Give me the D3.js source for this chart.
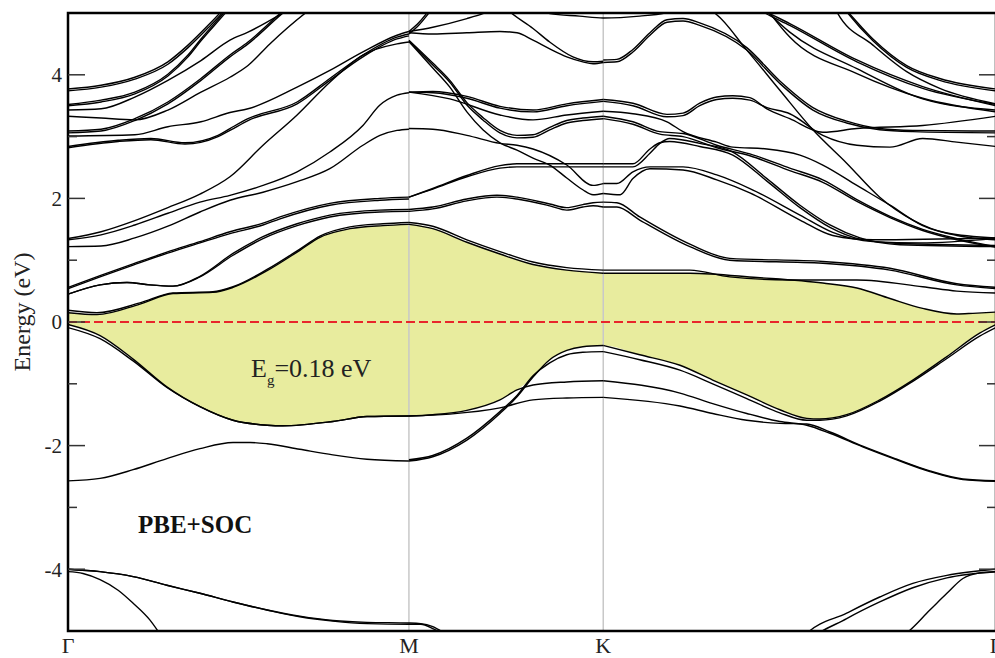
<!DOCTYPE html>
<html>
<head>
<meta charset="utf-8">
<script src="https://cdn.jsdelivr.net/npm/d3@7"></script>
<style>
    body { margin: 0; background: #fff; }
    svg { display: block; }
    text { font-family: "Liberation Serif", "Times New Roman", "DejaVu Serif", serif; }
</style>
</head>
<body>
<svg id="chart" width="995" height="658"></svg>
<script>
// k-path: Gamma - M - K - Gamma (path length units), energies in eV
var kPoints = [0, 1.0, 1.57, 2.722];
var kLabels = ["Γ", "M", "K", "Γ"];
var yMajor = [-4, -2, 0, 2, 4];
var yMinor = [-3, -1, 1, 3];

// each band: [k, E] or [k, E, E2] (E2 = spin-orbit partner line)
var bandsGM = [
    [[0,3.77,3.74],[0.097,3.83,3.80],[0.196,3.96,3.93],[0.293,4.21,4.17],[0.352,4.48,4.44],[0.411,4.80,4.76],[0.449,5.02,4.98],[0.47,5.15,5.12]],
    [[0,3.52,3.50],[0.097,3.59,3.56],[0.196,3.72,3.69],[0.293,4.01,3.98],[0.352,4.32,4.29],[0.39,4.58,4.55],[0.46,5.02,4.99],[0.48,5.15,5.12]],
    [[0,3.43],[0.097,3.45],[0.196,3.64],[0.293,3.91],[0.39,4.23],[0.475,4.56],[0.528,4.69],[0.636,5.02],[0.66,5.10]],
    [[0,3.09,3.06],[0.097,3.12,3.09],[0.196,3.29,3.26],[0.293,3.56,3.53],[0.39,3.94,3.91],[0.475,4.32,4.29],[0.528,4.53,4.50],[0.628,5.02,4.99],[0.65,5.12,5.09]],
    [[0,3.33],[0.097,3.30],[0.196,3.27],[0.293,3.43],[0.39,3.72],[0.475,3.96],[0.528,4.15],[0.592,4.50],[0.701,5.02],[0.72,5.10]],
    [[0,3.01],[0.196,3.03],[0.293,3.16],[0.39,3.24],[0.475,3.39],[0.528,3.45],[0.672,3.80],[0.768,4.07],[0.865,4.37],[0.965,4.64],[1.0,4.70]],
    [[0,2.84,2.82],[0.147,2.94,2.92],[0.243,2.97,2.95],[0.343,2.90,2.88],[0.44,3.02,3.00],[0.475,3.13,3.10],[0.528,3.29,3.26],[0.672,3.56,3.53],[0.768,3.94,3.91],[0.865,4.32,4.29],[0.965,4.61,4.58],[1.0,4.66,4.63]],
    [[0,1.35],[0.097,1.46],[0.196,1.64],[0.293,1.85],[0.387,2.07],[0.475,2.35],[0.572,2.86],[0.672,3.35],[0.768,3.88],[0.865,4.32],[0.965,4.50],[1.0,4.53]],
    [[0,1.33],[0.097,1.41],[0.196,1.57],[0.293,1.76],[0.387,1.94],[0.475,2.05],[0.572,2.21],[0.672,2.43],[0.768,2.75],[0.865,3.18],[0.915,3.51],[0.965,3.67],[1.0,3.71]],
    [[0,1.22],[0.097,1.23],[0.196,1.36],[0.293,1.55],[0.387,1.78],[0.475,1.97],[0.572,2.10],[0.672,2.27],[0.768,2.48],[0.865,2.86],[0.915,3.02],[0.965,3.10],[1.0,3.12]],
    [[0,0.54,0.56],[0.094,0.73,0.75],[0.191,0.92,0.94],[0.29,1.11,1.13],[0.387,1.28,1.30],[0.475,1.43,1.46],[0.572,1.57,1.60],[0.622,1.67,1.70],[0.768,1.89,1.92],[0.915,1.97,2.00],[1.0,1.99,2.02]],
    [[0,0.45,0.45],[0.094,0.60,0.60],[0.173,0.64,0.64],[0.24,0.60,0.60],[0.308,0.58,0.58],[0.387,0.73,0.74],[0.484,1.08,1.11],[0.572,1.35,1.38],[0.672,1.56,1.59],[0.768,1.70,1.73],[0.915,1.78,1.81],[1.0,1.79,1.82]],
    [[0,0.15,0.19],[0.085,0.12,0.15],[0.211,0.29,0.31],[0.308,0.46,0.47],[0.425,0.48,0.49],[0.484,0.56,0.57],[0.584,0.83,0.85],[0.68,1.16,1.18],[0.739,1.37,1.39],[0.827,1.51,1.54],[0.924,1.56,1.59],[1.0,1.58,1.61]],
    [[0,-0.04,-0.09],[0.094,-0.22,-0.27],[0.191,-0.60,-0.63],[0.29,-1.05,-1.06],[0.387,-1.37,-1.37],[0.484,-1.59,-1.59],[0.584,-1.67,-1.67],[0.63,-1.68,-1.68],[0.777,-1.61,-1.61],[0.877,-1.53,-1.53],[1.0,-1.52,-1.52]],
    [[0,-2.57],[0.094,-2.53],[0.191,-2.39],[0.29,-2.21],[0.387,-2.05],[0.484,-1.95],[0.534,-1.95],[0.584,-1.97],[0.68,-2.06],[0.777,-2.15],[0.877,-2.22],[1.0,-2.25]],
    [[0,-4.00,-4.00],[0.094,-4.04,-4.04],[0.191,-4.12,-4.12],[0.29,-4.26,-4.26],[0.387,-4.39,-4.39],[0.484,-4.53,-4.53],[0.584,-4.66,-4.66],[0.68,-4.77,-4.76],[0.777,-4.84,-4.83],[0.877,-4.88,-4.86],[1.0,-4.89,-4.87],[1.035,-4.89,-4.88],[1.07,-4.96,-4.93],[1.1,-5.05,-5.02]],
    [[0,-4.04],[0.044,-4.07],[0.094,-4.17],[0.147,-4.34],[0.191,-4.55],[0.24,-4.82],[0.27,-5.05]]
];

var bandsMK = [
    [[1.0,4.70,4.66],[1.03,4.85,4.81],[1.06,5.05,5.01],[1.07,5.12,5.08]],
    [[1.0,4.70],[1.07,4.77],[1.17,4.91],[1.217,4.99],[1.25,5.06]],
    [[1.0,4.68],[1.07,4.66],[1.17,4.68],[1.267,4.70],[1.317,4.68],[1.364,4.56],[1.413,4.42],[1.463,4.29],[1.51,4.21],[1.54,4.18],[1.57,4.20]],
    [[1.28,5.1],[1.296,5.02],[1.364,4.75],[1.413,4.53],[1.481,4.29],[1.54,4.21],[1.57,4.22]],
    [[1.39,5.06],[1.413,4.99],[1.5,4.95],[1.57,4.92],[1.677,4.95],[1.751,5.0],[1.79,5.06]],
    [[1.0,3.72,3.72],[1.07,3.71,3.73],[1.17,3.62,3.65],[1.267,3.46,3.49],[1.364,3.40,3.43],[1.463,3.50,3.53],[1.57,3.57,3.60]],
    [[1.0,3.72],[1.12,3.61],[1.267,3.35],[1.364,3.27],[1.463,3.35],[1.57,3.41]],
    [[1.0,4.54,4.56],[1.07,4.16,4.19],[1.12,3.88,3.91],[1.17,3.51,3.55],[1.217,3.27,3.31],[1.267,3.06,3.10],[1.317,2.98,3.02],[1.364,2.99,3.03],[1.413,3.11,3.15],[1.463,3.22,3.26],[1.51,3.26,3.30],[1.57,3.29,3.33]],
    [[1.0,4.54],[1.07,4.11],[1.12,3.80],[1.17,3.40],[1.217,3.11],[1.267,2.90],[1.317,2.78],[1.364,2.65],[1.413,2.54],[1.463,2.33],[1.51,2.14],[1.54,2.06],[1.57,2.08]],
    [[1.0,3.13],[1.07,3.12],[1.17,3.02],[1.267,2.89],[1.317,2.86],[1.364,2.80],[1.463,2.54],[1.54,2.21],[1.57,2.24]],
    [[1.0,2.02,2.02],[1.07,2.15,2.16],[1.17,2.35,2.37],[1.267,2.49,2.53],[1.317,2.51,2.56],[1.413,2.51,2.56],[1.57,2.51,2.56]],
    [[1.0,1.79,1.82],[1.07,1.83,1.86],[1.17,1.96,1.99],[1.258,2.02,2.05],[1.317,1.99,2.02],[1.413,1.88,1.91],[1.463,1.81,1.85],[1.51,1.86,1.90],[1.54,1.88,1.93],[1.57,1.86,1.94]],
    [[1.0,1.58,1.61],[1.07,1.51,1.55],[1.17,1.29,1.33],[1.267,1.10,1.14],[1.364,0.93,0.97],[1.463,0.84,0.88],[1.57,0.79,0.84]],
    [[1.0,-2.25,-2.23],[1.07,-2.18,-2.16],[1.17,-1.91,-1.88],[1.267,-1.48,-1.45],[1.317,-1.21,-1.19],[1.364,-0.89,-0.87],[1.413,-0.61,-0.66],[1.463,-0.46,-0.53],[1.51,-0.40,-0.49],[1.57,-0.38,-0.48]],
    [[1.0,-1.52],[1.07,-1.50],[1.17,-1.43],[1.267,-1.26],[1.317,-1.10],[1.364,-1.02],[1.463,-0.97],[1.57,-0.95]],
    [[1.0,-1.52],[1.12,-1.49],[1.267,-1.39],[1.364,-1.26],[1.463,-1.23],[1.57,-1.22]]
];

var bandsKG = [
    [[1.57,4.20,4.24],[1.61,4.21,4.25],[1.657,4.37,4.41],[1.707,4.64,4.68],[1.757,4.85,4.89],[1.804,4.87,4.91],[1.853,4.80,4.84],[1.991,4.40,4.44],[2.088,3.86,3.90],[2.185,3.43,3.47],[2.284,3.22,3.25],[2.381,3.11,3.13],[2.478,3.08,3.10],[2.722,3.06,3.09]],
    [[1.88,5.05],[1.891,5.02],[1.991,4.40],[2.088,3.75],[2.185,3.11],[2.284,2.57],[2.381,2.02],[2.478,1.65],[2.578,1.44],[2.722,1.36]],
    [[1.57,3.57],[1.657,3.50],[1.757,3.32],[1.804,3.34],[1.853,3.50],[1.903,3.60],[1.95,3.62],[2.0,3.59],[2.05,3.47],[2.117,3.37],[2.214,3.02],[2.314,2.86],[2.411,2.83],[2.507,2.97],[2.607,2.91],[2.722,2.84]],
    [[1.57,3.60],[1.657,3.54],[1.757,3.36],[1.804,3.38],[1.853,3.54],[1.903,3.64],[1.95,3.66],[2.0,3.63],[2.05,3.45],[2.117,3.29],[2.214,3.07],[2.314,3.13],[2.507,3.18],[2.722,3.33]],
    [[1.57,3.41],[1.657,3.37],[1.757,3.24],[1.804,3.08],[1.903,2.91],[1.95,2.83],[2.05,2.80],[2.147,2.70],[2.214,2.54],[2.314,2.21],[2.411,1.89],[2.507,1.56],[2.607,1.40],[2.722,1.33]],
    [[1.57,3.29,3.33],[1.657,3.20,3.24],[1.736,3.04,3.08],[1.804,3.00,3.05],[1.903,2.82,2.86],[2.0,2.69,2.72],[2.117,2.45,2.49],[2.214,2.26,2.30],[2.314,1.95,1.98],[2.411,1.69,1.71],[2.507,1.48,1.50],[2.607,1.33,1.35],[2.722,1.21,1.22]],
    [[1.57,2.51,2.56],[1.657,2.51,2.56],[1.707,2.73,2.80],[1.736,2.89,2.90],[1.765,2.97,2.92],[1.853,2.89,2.84],[1.95,2.75,2.70],[2.05,2.32,2.28],[2.147,1.89,1.85],[2.235,1.57,1.53],[2.323,1.36,1.34],[2.44,1.25,1.27],[2.722,1.22,1.24]],
    [[1.57,2.24],[1.61,2.24],[1.657,2.43],[1.707,2.51],[1.804,2.51],[1.903,2.38],[2.0,2.16],[2.147,1.73],[2.243,1.45],[2.361,1.30],[2.5,1.28],[2.722,1.35]],
    [[1.57,2.08],[1.62,2.06],[1.657,2.32],[1.707,2.48],[1.804,2.46],[1.903,2.30],[2.0,2.09],[2.147,1.65],[2.243,1.40],[2.361,1.33],[2.722,1.36]],
    [[1.57,1.86,1.94],[1.61,1.86,1.93],[1.677,1.65,1.70],[1.824,1.22,1.26],[1.941,1.00,1.03],[2.214,0.95,0.98],[2.411,0.84,0.87],[2.607,0.60,0.62],[2.722,0.54,0.56]],
    [[1.57,0.79],[1.7,0.79],[1.824,0.79],[2.021,0.72],[2.214,0.63],[2.314,0.55],[2.411,0.38],[2.507,0.22],[2.607,0.13],[2.654,0.14],[2.722,0.16]],
    [[1.57,0.84],[1.824,0.84],[1.941,0.73],[2.117,0.68],[2.314,0.68],[2.507,0.57],[2.607,0.50],[2.722,0.47]],
    [[1.57,-0.38,-0.48],[1.677,-0.53,-0.61],[1.795,-0.70,-0.78],[1.891,-0.94,-1.00],[1.991,-1.18,-1.24],[2.088,-1.42,-1.47],[2.167,-1.56,-1.59],[2.205,-1.57,-1.59],[2.284,-1.50,-1.52],[2.381,-1.26,-1.28],[2.478,-0.94,-0.96],[2.578,-0.56,-0.59],[2.674,-0.18,-0.23],[2.722,-0.04,-0.09]],
    [[1.57,-0.95],[1.795,-1.15],[1.891,-1.32],[1.991,-1.48],[2.088,-1.61],[2.167,-1.67],[2.235,-1.80],[2.331,-2.02],[2.431,-2.23],[2.528,-2.42],[2.625,-2.55],[2.722,-2.58]],
    [[1.57,-1.22],[1.795,-1.36],[1.891,-1.48],[1.991,-1.59],[2.088,-1.64],[2.167,-1.65],[2.235,-1.78],[2.331,-2.01],[2.431,-2.22],[2.528,-2.41],[2.625,-2.54],[2.722,-2.57]],
    [[2.14,-5.2,-5.35],[2.165,-5.05,-5.2],[2.284,-4.71,-4.80],[2.381,-4.45,-4.53],[2.478,-4.23,-4.30],[2.578,-4.10,-4.14],[2.722,-4.00,-4.04]],
    [[2.44,-5.1],[2.455,-5.05],[2.528,-4.66],[2.578,-4.39],[2.625,-4.15],[2.674,-4.06],[2.722,-4.04]],
    [[2.27,5.12,5.12],[2.287,5.02,5.0],[2.361,4.58,4.55],[2.46,4.15,4.12],[2.557,3.94,3.91],[2.722,3.77,3.74]],
    [[2.02,5.08,5.10],[2.044,5.0,5.03],[2.117,4.80,4.83],[2.314,4.21,4.24],[2.507,3.78,3.81],[2.722,3.52,3.50]],
    [[2.04,5.08],[2.117,4.69],[2.314,4.10],[2.507,3.61],[2.722,3.43]],
    [[2.05,5.06],[2.117,4.61],[2.314,4.02],[2.507,3.62],[2.722,3.40]],
    [[2.25,5.1],[2.255,5.02],[2.361,4.48],[2.46,4.05],[2.557,3.78],[2.722,3.53]]
];

// band gap shading: lowest conduction band and highest valence band
var gapTop = [[0,0.15],[0.085,0.12],[0.211,0.29],[0.308,0.46],[0.425,0.48],[0.484,0.56],[0.584,0.83],[0.68,1.16],[0.739,1.37],[0.827,1.51],[0.924,1.56],[1.0,1.58],[1.07,1.51],[1.17,1.29],[1.267,1.10],[1.364,0.93],[1.463,0.84],[1.57,0.79],[1.7,0.79],[1.824,0.79],[2.021,0.72],[2.214,0.63],[2.314,0.55],[2.411,0.38],[2.507,0.22],[2.607,0.13],[2.654,0.14],[2.722,0.16]];
var gapBottom = [[0,-0.04],[0.094,-0.22],[0.191,-0.60],[0.29,-1.05],[0.387,-1.37],[0.484,-1.59],[0.584,-1.67],[0.63,-1.68],[0.777,-1.61],[0.877,-1.53],[1.0,-1.52],[1.07,-1.50],[1.17,-1.43],[1.267,-1.26],[1.317,-1.10],[1.364,-0.89],[1.413,-0.61],[1.463,-0.46],[1.51,-0.40],[1.57,-0.38],[1.677,-0.53],[1.795,-0.70],[1.891,-0.94],[1.991,-1.18],[2.088,-1.42],[2.167,-1.56],[2.205,-1.57],[2.284,-1.50],[2.381,-1.26],[2.478,-0.94],[2.578,-0.56],[2.674,-0.18],[2.722,-0.04]];

var gapLabel = "0.18 eV";
var methodLabel = "PBE+SOC";

var serif = "'Liberation Serif', 'Times New Roman', 'DejaVu Serif', serif";

var margin = { top: 13, right: -1, bottom: 27, left: 68 },
    width = 995,
    height = 658;

var svg = d3.select("#chart");

var x = d3.scaleLinear()
    .domain([0, kPoints[kPoints.length - 1]])
    .range([margin.left, width - margin.right]);

var y = d3.scaleLinear()
    .domain([-5, 5])
    .range([height - margin.bottom, margin.top]);

svg.append("clipPath")
    .attr("id", "plotClip")
    .append("rect")
    .attr("x", x(0))
    .attr("y", y(5))
    .attr("width", x.range()[1] - x(0))
    .attr("height", y(-5) - y(5));

var plot = svg.append("g").attr("clip-path", "url(#plotClip)");

var line1 = d3.line()
    .x(function (d) { return x(d[0]); })
    .y(function (d) { return y(d[1]); })
    .curve(d3.curveMonotoneX);

var line2 = d3.line()
    .x(function (d) { return x(d[0]); })
    .y(function (d) { return y(d[2]); })
    .curve(d3.curveMonotoneX);

// shaded gap
var topPath = line1(gapTop);
var botPath = line1(gapBottom.slice().reverse());
plot.append("path")
    .attr("d", topPath + "L" + botPath.slice(1) + "Z")
    .style("fill", "#e8ec9e")
    .style("stroke", "none");

// high-symmetry verticals
kPoints.slice(1, -1).forEach(function (k) {
    plot.append("line")
        .attr("x1", x(k)).attr("x2", x(k))
        .attr("y1", y(5)).attr("y2", y(-5))
        .style("stroke", "#c8c8c8")
        .style("stroke-width", "1.5px");
});

// fermi level
plot.append("line")
    .attr("x1", x(0)).attr("x2", x.range()[1])
    .attr("y1", y(0)).attr("y2", y(0))
    .style("stroke", "#e8262b")
    .style("stroke-width", "2px")
    .style("stroke-dasharray", "9,4");

// bands
var allBands = bandsGM.concat(bandsMK, bandsKG);
allBands.forEach(function (b) {
    plot.append("path")
        .attr("d", line1(b))
        .style("fill", "none")
        .style("stroke", "#000")
        .style("stroke-width", "1.4px");
    if (b[0].length > 2) {
        plot.append("path")
            .attr("d", line2(b))
            .style("fill", "none")
            .style("stroke", "#000")
            .style("stroke-width", "1.4px");
    }
});

// frame
svg.append("rect")
    .attr("x", x(0))
    .attr("y", y(5))
    .attr("width", x.range()[1] - x(0))
    .attr("height", y(-5) - y(5))
    .style("fill", "none")
    .style("stroke", "#000")
    .style("stroke-width", "2.5px");

// ticks, inward on both sides
var xl = x(0), xr = x.range()[1];
yMajor.forEach(function (v) {
    svg.append("line").attr("x1", xl).attr("x2", xl + 17).attr("y1", y(v)).attr("y2", y(v))
        .style("stroke", "#333").style("stroke-width", "1.5px");
    svg.append("line").attr("x1", xr).attr("x2", xr - 17).attr("y1", y(v)).attr("y2", y(v))
        .style("stroke", "#333").style("stroke-width", "1.5px");
    svg.append("text")
        .attr("x", 62)
        .attr("y", y(v))
        .attr("dy", "0.35em")
        .attr("text-anchor", "end")
        .style("font-family", serif)
        .style("font-size", "21px")
        .style("fill", "#222")
        .text(v);
});
yMinor.forEach(function (v) {
    svg.append("line").attr("x1", xl).attr("x2", xl + 9).attr("y1", y(v)).attr("y2", y(v))
        .style("stroke", "#333").style("stroke-width", "1.5px");
    svg.append("line").attr("x1", xr).attr("x2", xr - 9).attr("y1", y(v)).attr("y2", y(v))
        .style("stroke", "#333").style("stroke-width", "1.5px");
});

// k labels
kPoints.forEach(function (k, i) {
    svg.append("text")
        .attr("x", x(k))
        .attr("y", 653)
        .attr("text-anchor", "middle")
        .style("font-family", serif)
        .style("font-size", "22px")
        .style("fill", "#222")
        .text(kLabels[i]);
});

svg.append("text")
    .attr("transform", "translate(30," + 312 + ") rotate(-90)")
    .attr("text-anchor", "middle")
    .style("font-family", serif)
    .style("font-size", "24px")
    .style("fill", "#222")
    .text("Energy (eV)");

var eg = svg.append("text")
    .attr("x", 251)
    .attr("y", 377)
    .style("font-family", serif)
    .style("font-size", "26px")
    .style("fill", "#222");
eg.append("tspan").text("E");
eg.append("tspan").attr("dy", 8).style("font-size", "15px").text("g");
eg.append("tspan").attr("dy", -8).text("=" + gapLabel);

svg.append("text")
    .attr("x", 138)
    .attr("y", 533)
    .style("font-family", serif)
    .style("font-size", "25px")
    .style("font-weight", "bold")
    .style("fill", "#111")
    .text(methodLabel);
</script>
</body>
</html>
